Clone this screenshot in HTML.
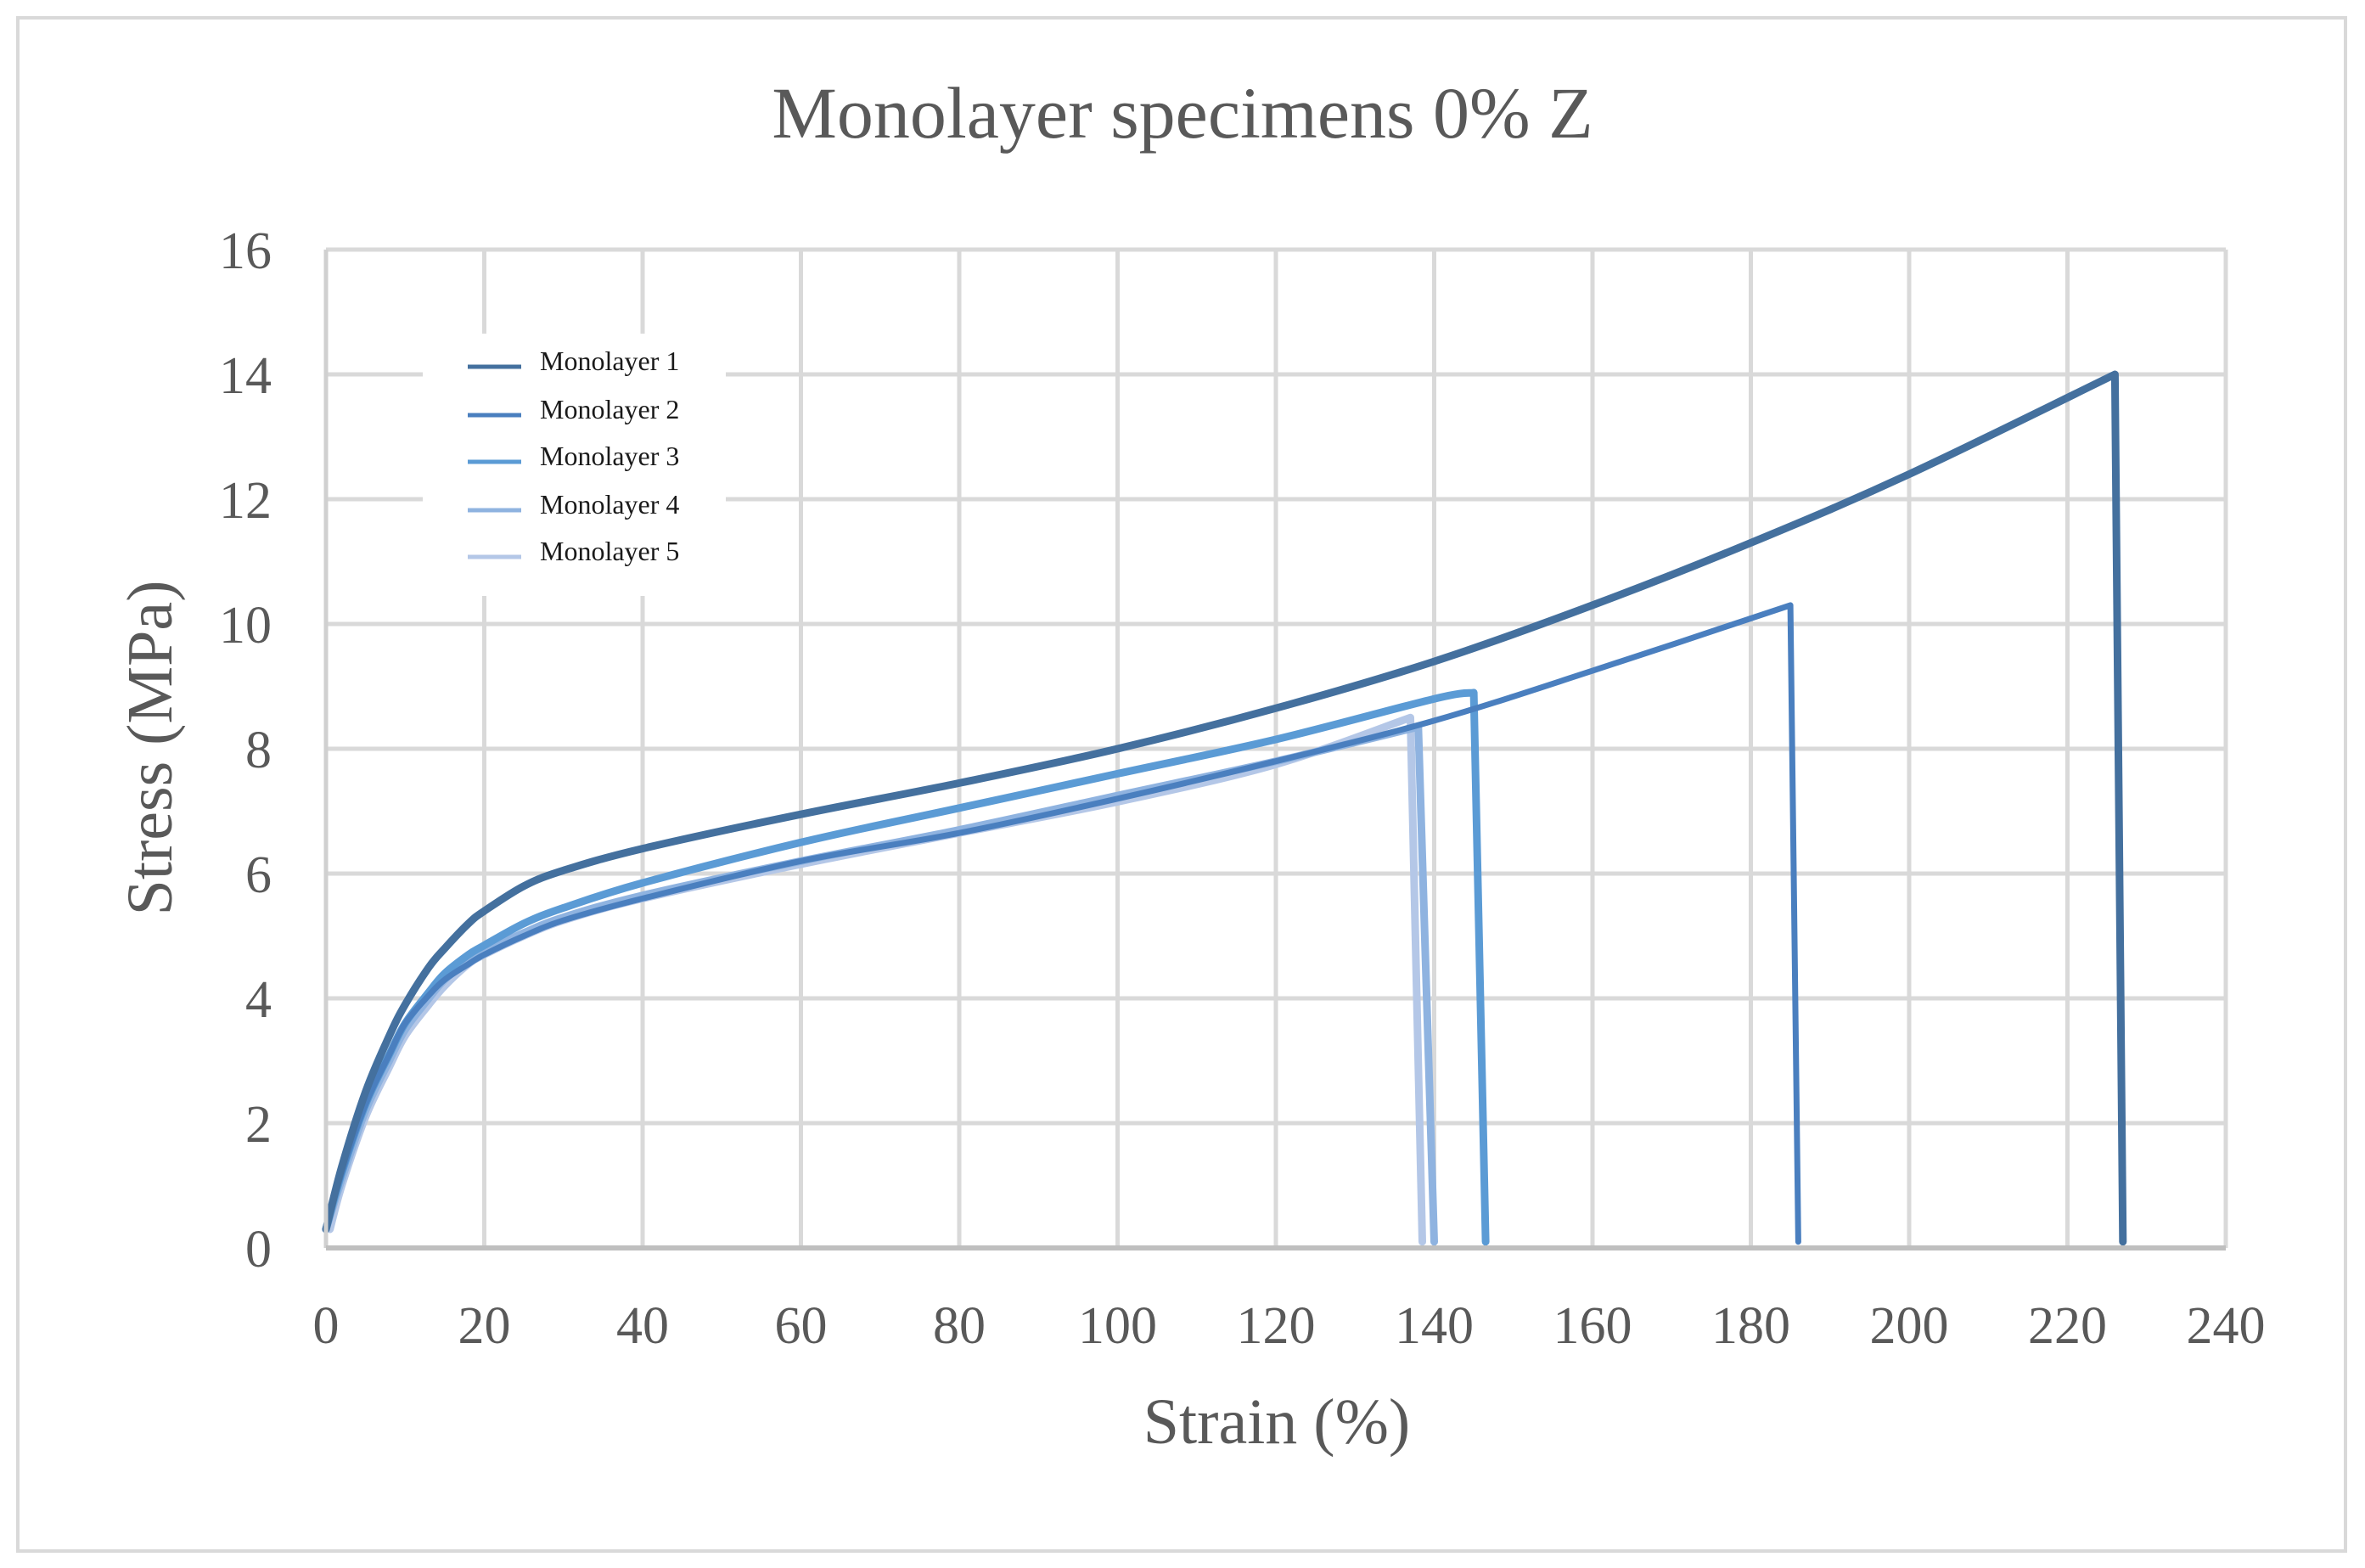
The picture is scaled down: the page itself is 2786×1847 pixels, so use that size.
<!DOCTYPE html>
<html><head><meta charset="utf-8"><style>
html,body{margin:0;padding:0;background:#fff}
svg{display:block}
text{font-family:"Liberation Serif",serif;fill:#595959}
</style></head><body>
<svg id="chart" width="2786" height="1847" viewBox="0 0 2786 1847">
<rect x="21" y="21" width="2742" height="1806" fill="#fff" stroke="#d9d9d9" stroke-width="4"/>
<text x="1393" y="162" font-size="86" text-anchor="middle">Monolayer specimens 0% Z</text>
<g id="grid"></g>
<g id="series"></g>
<g id="axes"></g>
<text x="1504" y="1700" font-size="76" text-anchor="middle">Strain (%)</text>
<text transform="translate(202,881) rotate(-90)" font-size="76" text-anchor="middle">Stress (MPa)</text>
<g id="legend"></g>
</svg>
<script>
const xTicks=[0,20,40,60,80,100,120,140,160,180,200,220,240];
const yTicks=[0,2,4,6,8,10,12,14,16];
const seriesNames=["Monolayer 1","Monolayer 2","Monolayer 3","Monolayer 4","Monolayer 5"];
const seriesColors=["#44709e","#4a7fbf","#5b9bd5","#8fb3e0","#b4c7e7"];
const s1x=[0,2,5,8,10,13,15,18,20,25,30,40,60,80,100,120,140,160,180,200,226,227];
const s1y=[0.3,1.3,2.5,3.4,3.9,4.5,4.8,5.2,5.4,5.8,6.05,6.4,6.95,7.45,8.0,8.65,9.4,10.3,11.3,12.4,14.0,0.1];
const s2x=[0,2,5,8,10,13,15,18,20,25,30,40,60,80,100,120,140,160,185,186];
const s2y=[0.3,1.2,2.3,3.1,3.6,4.05,4.3,4.55,4.7,5.0,5.25,5.6,6.2,6.65,7.2,7.8,8.45,9.25,10.3,0.1];
const s3x=[0,2,5,8,10,13,15,18,20,25,30,40,60,80,100,120,140,145,146.5];
const s3y=[0.3,1.2,2.3,3.1,3.6,4.1,4.4,4.7,4.85,5.2,5.45,5.85,6.5,7.05,7.6,8.15,8.8,8.9,0.1];
const s4x=[0,2,5,8,10,13,15,18,20,25,30,40,60,80,100,120,138,140];
const s4y=[0.3,1.1,2.2,3.0,3.5,4.0,4.3,4.6,4.75,5.05,5.3,5.65,6.2,6.7,7.25,7.8,8.35,0.1];
const s5x=[0.5,2,5,8,10,13,15,18,20,25,30,40,60,80,100,120,137,138.5];
const s5y=[0.3,1.0,2.1,2.9,3.4,3.9,4.2,4.55,4.7,5.0,5.25,5.6,6.15,6.65,7.15,7.75,8.5,0.1];
const allX=[s1x,s2x,s3x,s4x,s5x], allY=[s1y,s2y,s3y,s4y,s5y];
const L=384,R=2622,T=294,B=1470;
const X=v=>L+(v-0)/(240-0)*(R-L);
const Y=v=>B-(v-0)/(16-0)*(B-T);
const NS="http://www.w3.org/2000/svg";
function mk(tag,attrs,parent){const e=document.createElementNS(NS,tag);for(const k in attrs)e.setAttribute(k,attrs[k]);parent.appendChild(e);return e;}
function smooth(P){let d='M'+P[0][0].toFixed(1)+','+P[0][1].toFixed(1);
for(let i=0;i<P.length-1;i++){const p0=P[Math.max(0,i-1)],p1=P[i],p2=P[i+1],p3=P[Math.min(P.length-1,i+2)];
const c1=[p1[0]+(p2[0]-p0[0])/6,p1[1]+(p2[1]-p0[1])/6],c2=[p2[0]-(p3[0]-p1[0])/6,p2[1]-(p3[1]-p1[1])/6];
d+='C'+c1[0].toFixed(1)+','+c1[1].toFixed(1)+' '+c2[0].toFixed(1)+','+c2[1].toFixed(1)+' '+p2[0].toFixed(1)+','+p2[1].toFixed(1);}
return d;}
const grid=document.getElementById('grid'),axes=document.getElementById('axes'),ser=document.getElementById('series'),leg=document.getElementById('legend');
xTicks.forEach(t=>{if(t===0)return;const l=mk('line',{x1:X(t),x2:X(t),y1:T,y2:B,stroke:'#d9d9d9','stroke-width':5},grid);

});
yTicks.forEach(t=>{if(t===0)return;const l=mk('line',{x1:L,x2:R,y1:Y(t),y2:Y(t),stroke:'#d9d9d9','stroke-width':5},grid);

});
const ya=mk('line',{x1:L,x2:L,y1:T,y2:B,stroke:'#d0d0d0','stroke-width':5},axes);


const xa=mk('line',{x1:L,x2:R,y1:B,y2:B,stroke:'#bfbfbf','stroke-width':6},axes);


xTicks.forEach(t=>{const e=mk('text',{x:X(t),y:1582,'font-size':62,'text-anchor':'middle'},axes);e.textContent=t;

});
yTicks.forEach(t=>{const e=mk('text',{x:320,y:Y(t)+22,'font-size':62,'text-anchor':'end'},axes);e.textContent=t;

});
for(let i=4;i>=0;i--){const xs=allX[i],ys=allY[i];const n=xs.length;
const P=xs.slice(0,n-1).map((v,j)=>[X(v),Y(ys[j])]);
const d=smooth(P)+'L'+X(xs[n-1]).toFixed(1)+','+Y(ys[n-1]).toFixed(1);
const p=mk('path',{d:d,fill:'none',stroke:seriesColors[i],'stroke-width':i===1?7:9,'stroke-linejoin':'round','stroke-linecap':'round'},ser);

}
const bg=mk('rect',{x:498,y:393,width:357,height:309,fill:'#fff'},leg);


const ly=[432,489,544,601,656];
seriesNames.forEach((n,i)=>{const g=mk('g',{},leg);


mk('line',{x1:551,x2:614,y1:ly[i],y2:ly[i],stroke:seriesColors[i],'stroke-width':5},g);
const t=mk('text',{x:636,y:ly[i]+4,'font-size':32},g);t.textContent=n;t.style.fill='#1a1a1a';});
</script>
</body></html>
